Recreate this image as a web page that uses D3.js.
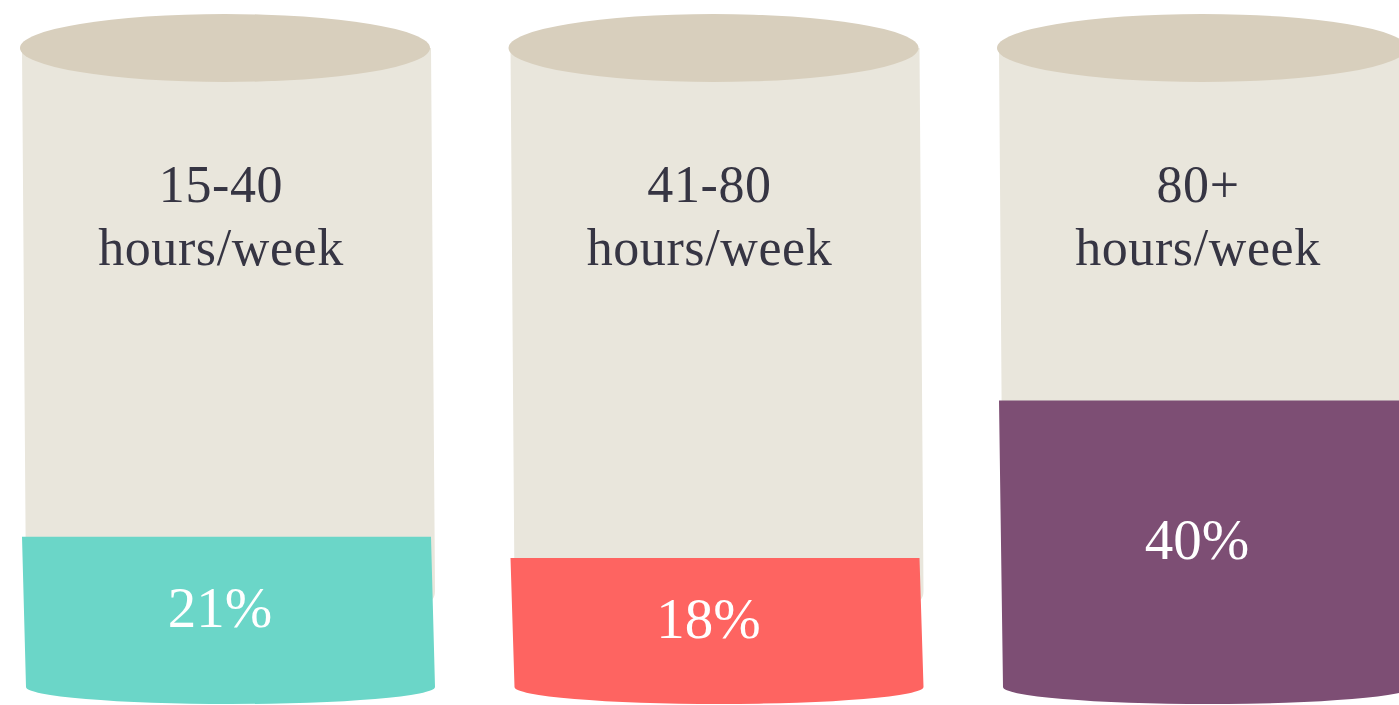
<!DOCTYPE html>
<html>
<head>
<meta charset="utf-8">
<script src="https://cdn.jsdelivr.net/npm/d3@7"></script>
<style>
  html, body { margin: 0; padding: 0; background: #fff; }
  svg { display: block; }
</style>
</head>
<body>
<script>
const width = 1399, height = 705

// data
const categories = ['15-40', '41-80', '80+']
const unitLabel = 'hours/week'
const shares = [21, 18, 40]
const fillColors = ['#6bd6c8', '#fe6461', '#7d4e74']

const topColor = '#d8cfbd'
const bodyColor = '#e9e6dc'
const textColor = '#363543'

const rx = 205, ry = 34, topY = 48
const baseY = 687      // where the side walls meet the bottom curve
const bottomRy = 17
const bodyBottom = 603

const svg = d3.select('body').append('svg')
  .attr('width', width)
  .attr('height', height)

const x = d3.scalePoint().domain(categories).range([225, 1202])
// fill height per percentage point
const y = d3.scaleLinear().domain([0, 100]).range([baseY, baseY - 716])

const cyl = svg.selectAll('g.cylinder')
  .data(categories.map((c, i) => ({cat: c, value: shares[i], color: fillColors[i]})))
  .enter().append('g')
  .attr('class', 'cylinder')
  .attr('transform', d => `translate(${x(d.cat)},0)`)

// body of the cylinder, slightly leaning to the right like the hand drawn original
cyl.append('path')
  .attr('fill', bodyColor)
  .attr('d', () => {
    const r = 12
    return `M${-203},${topY} L${-199},${bodyBottom - r} Q${-199},${bodyBottom} ${-199 + r},${bodyBottom}` +
      ` L${210 - r},${bodyBottom} Q${210},${bodyBottom} ${210},${bodyBottom - r} L${206},${topY} Z`
  })

// coloured share at the bottom
cyl.append('path')
  .attr('fill', d => d.color)
  .attr('d', d => {
    const ft = y(d.value)
    return `M${-203},${ft} L${-199},${baseY} A${204.5},${bottomRy} 0 0 0 ${210},${baseY} L${206},${ft} Z`
  })

// top ellipse
cyl.append('ellipse')
  .attr('cx', 0)
  .attr('cy', topY)
  .attr('rx', rx)
  .attr('ry', ry)
  .attr('fill', topColor)

const label = cyl.append('text')
  .attr('text-anchor', 'middle')
  .attr('font-family', '"Liberation Serif", "DejaVu Serif", serif')
  .attr('font-size', 52)
  .attr('letter-spacing', 0.6)
  .attr('fill', textColor)

label.append('tspan')
  .attr('x', -4)
  .attr('y', 202)
  .text(d => d.cat)

label.append('tspan')
  .attr('x', -4)
  .attr('y', 265)
  .text(unitLabel)

cyl.append('text')
  .attr('text-anchor', 'middle')
  .attr('font-family', '"Liberation Serif", "DejaVu Serif", serif')
  .attr('font-size', 57)
  .attr('fill', '#fff')
  .attr('x', -5)
  .attr('y', d => (y(d.value) + baseY) / 2 + 15)
  .text(d => d.value + '%')
</script>
</body>
</html>
